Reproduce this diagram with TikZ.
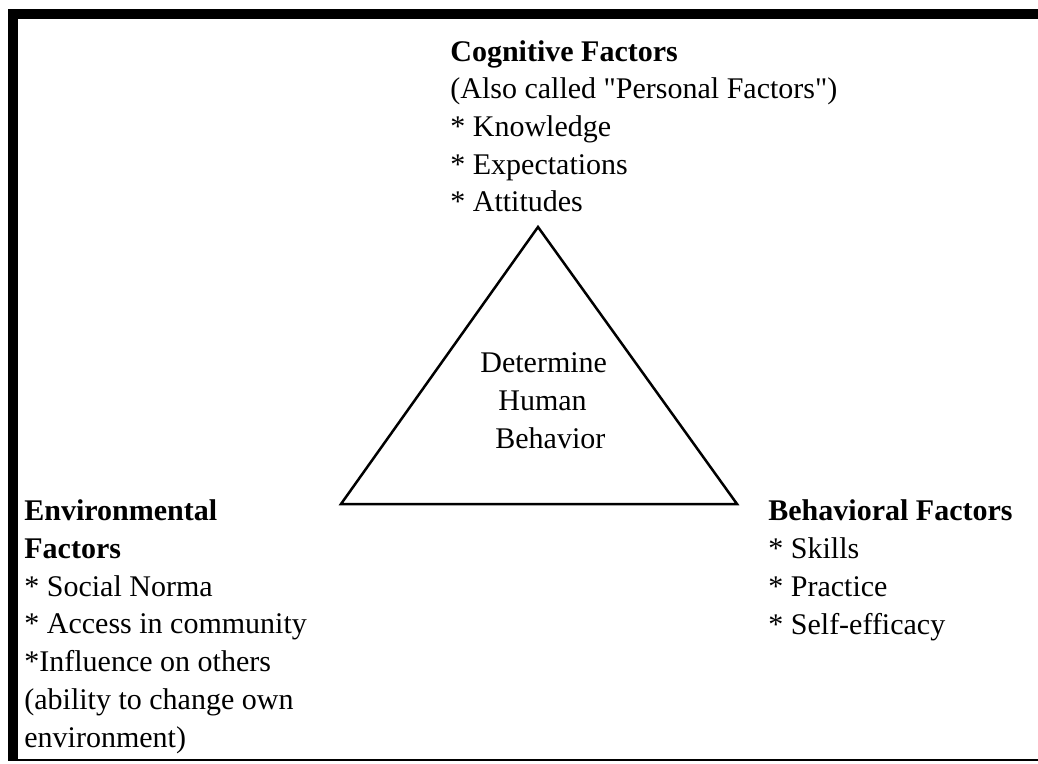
\documentclass[tikz,border=0pt]{standalone}
\usepackage{fontspec}
\setmainfont{Liberation Serif}[Ligatures=TeXOff]
\tikzset{
  factor/.style={anchor=base west, align=left, inner sep=0pt,
    font=\fontsize{15}{18.85}\selectfont},
  bar/.style={fill=black},
  tri/.style={draw=black, line width=1.25pt, line join=miter},
}

\begin{document}
\begin{tikzpicture}[x=0.5pt, y=-0.5pt]
  \useasboundingbox (0,0) rectangle (1038,764);
  % frame
  \fill[bar] (8,9) rectangle (18,761);
  \fill[bar] (8,9) rectangle (1038,19);
  \fill[bar] (8,758.5) rectangle (1038,761);
  % triangle
  \coordinate (top) at (538,227);
  \coordinate (right) at (737,504);
  \coordinate (left) at (341,504);
  \draw[tri] (top) -- (right) -- (left) -- cycle;
  % base anchor sits on the last line
  \node[factor] (core) at (480,448) {Determine\\\hspace{9pt}Human\\\hspace{7.5pt}Behavior};
  % the three factors
  \node[factor] (cog) at (450,212) {\textbf{Cognitive Factors}\\(Also called "Personal Factors")\\* Knowledge\\* Expectations\\* Attitudes};
  \node[factor] (env) at (24,747) {\textbf{Environmental}\\\textbf{Factors}\\* Social Norma\\* Access in community\\*Influence on others\\(ability to change own\\environment)};
  \node[factor] (beh) at (768,634) {\textbf{Behavioral Factors}\\* Skills\\* Practice\\* Self-efficacy};
\end{tikzpicture}
\end{document}
